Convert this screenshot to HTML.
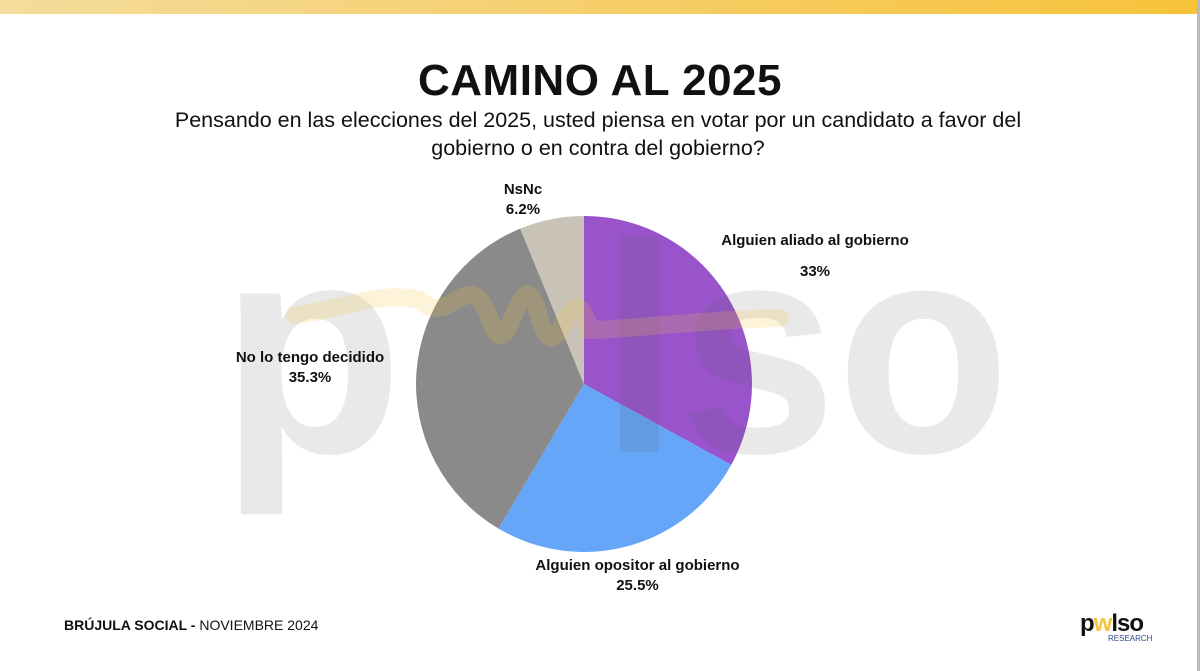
<!DOCTYPE html>
<html><head><meta charset="utf-8"><style>
body{margin:0;width:1200px;height:671px;background:#fff;position:relative;overflow:hidden;font-family:"Liberation Sans",sans-serif}
.bar{position:absolute;left:0;top:0;width:1197px;height:14px;background:linear-gradient(90deg,#f5dc9c,#f6c23a)}
.rb{position:absolute;right:0;top:0;width:3px;height:671px;background:#bbb}
.t{position:absolute;width:1200px;text-align:center;color:#111}
.lbl{position:absolute;font-weight:bold;font-size:15px;color:#111;text-align:center;line-height:20px;white-space:nowrap}
</style></head><body>
<div class="bar"></div><div class="rb"></div>
<div class="t" style="top:56px;font-size:44px;font-weight:900;letter-spacing:0.5px">CAMINO AL 2025</div>
<div class="t" style="top:106px;font-size:21.5px;line-height:28px;left:-2px">Pensando en las elecciones del 2025, usted piensa en votar por un candidato a favor del<br>gobierno o en contra del gobierno?</div>
<svg style="position:absolute;left:0;top:0" width="1200" height="671">
<path d="M584,384 L584,216 A168,168 0 0 1 731.2,464.9 Z" fill="#9954cc"/>
<path d="M584,384 L731.2,464.9 A168,168 0 0 1 498.5,528.6 Z" fill="#65a6f8"/>
<path d="M584,384 L498.5,528.6 A168,168 0 0 1 520.2,228.6 Z" fill="#8a8a8a"/>
<path d="M584,384 L520.2,228.6 A168,168 0 0 1 584,216 Z" fill="#c9c2b7"/>
<g opacity="0.12" fill="#555" font-family="Liberation Sans" font-weight="bold">
<text x="220" y="452" font-size="300">p</text>
<text x="600" y="452" font-size="300" textLength="410" lengthAdjust="spacingAndGlyphs">lso</text>
</g>
<path d="M295,315 C340,310 380,290 420,300 C450,330 470,260 490,320 C510,380 520,240 540,320 C560,380 570,260 590,330 C620,330 700,320 780,318" stroke="#f6c23a" stroke-width="18" fill="none" opacity="0.2" stroke-linecap="round"/>
</svg>
<div class="lbl" style="left:490px;top:180px;width:66px">NsNc<br>6.2%</div>
<div class="lbl" style="left:700px;top:231px;width:230px">Alguien aliado al gobierno<br><span style="line-height:42px">33%</span></div>
<div class="lbl" style="left:225px;top:348px;width:170px">No lo tengo decidido<br>35.3%</div>
<div class="lbl" style="left:520px;top:556px;width:235px">Alguien opositor al gobierno<br>25.5%</div>
<div style="position:absolute;left:64px;top:617px;font-size:14px;color:#111"><b>BRÚJULA SOCIAL -</b> NOVIEMBRE 2024</div>
<div style="position:absolute;left:1080px;top:610px;font-size:24px;font-weight:bold;color:#111;letter-spacing:-1px">p<span style="color:#f6c23a">w</span>lso</div>
<div style="position:absolute;left:1108px;top:634px;font-size:8px;color:#2b4a8a">RESEARCH</div>
</body></html>
